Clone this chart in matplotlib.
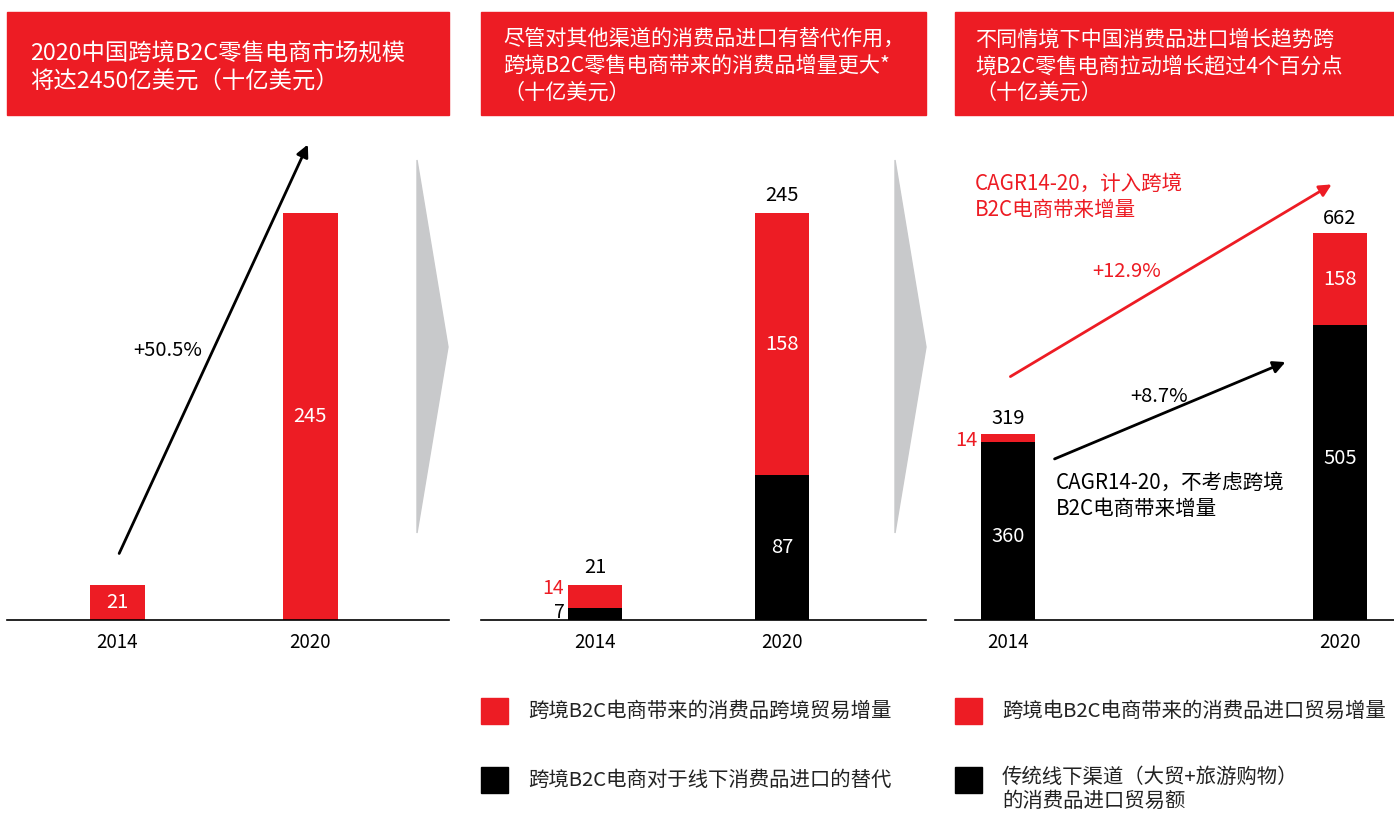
import matplotlib
matplotlib.use("Agg")
import matplotlib.pyplot as plt
from matplotlib.patches import Rectangle, Polygon, FancyArrowPatch

plt.rcParams['font.family'] = ['Noto Sans CJK SC', 'DejaVu Sans']

W, H = 1394, 816
RED = '#ED1C24'
GREY = '#C8C9CB'

years = ['2014', '2020']

# panel 1: market size
p1_values = [21, 245]
p1_cagr = '+50.5%'

# panel 2: split of B2C volume
p2_substitute = [7, 87]
p2_increment = [14, 158]
p2_totals = [21, 245]

# panel 3: consumer goods import
p3_traditional = [305, 505]
p3_traditional_labels = ['360', '505']
p3_b2c = [14, 158]
p3_totals = [319, 662]
p3_cagr_with = '+12.9%'
p3_cagr_without = '+8.7%'

titles = [
    '2020中国跨境B2C零售电商市场规模\n将达2450亿美元（十亿美元）',
    '尽管对其他渠道的消费品进口有替代作用，\n跨境B2C零售电商带来的消费品增量更大*\n（十亿美元）',
    '不同情境下中国消费品进口增长趋势跨\n境B2C零售电商拉动增长超过4个百分点\n（十亿美元）',
]
legend2 = ['跨境B2C电商带来的消费品跨境贸易增量', '跨境B2C电商对于线下消费品进口的替代']
legend3 = ['跨境电B2C电商带来的消费品进口贸易增量', '传统线下渠道（大贸+旅游购物）\n的消费品进口贸易额']

NUM_FS = 14.5


def fx(x):
    return x / W


def fy(y):
    return 1 - y / H


fig = plt.figure(figsize=(W / 100, H / 100), dpi=100)

# red title boxes
boxes = [(7, 449), (481, 926), (955, 1394)]
title_pos = [(30, 68, 16.8), (503, 66, 15.2), (975, 66, 15.2)]
for (x0, x1), (tx, ty, fs), t in zip(boxes, title_pos, titles):
    fig.patches.append(Rectangle((fx(x0), fy(115)), fx(x1 - x0), 103 / H,
                                 transform=fig.transFigure, color=RED, zorder=0))
    fig.text(fx(tx), fy(ty), t, color='white', fontsize=fs, va='center',
             ha='left', linespacing=1.28)

# grey chevrons
for x0 in (417, 895):
    pts = [(fx(x0), fy(160)), (fx(x0 + 31), fy(347)), (fx(x0), fy(533))]
    fig.patches.append(Polygon(pts, closed=True, transform=fig.transFigure,
                               color=GREY, zorder=0))


def make_ax(x0, x1, xlim, ytop):
    ax = fig.add_axes([fx(x0), fy(620), fx(x1 - x0), 490 / H])
    ax.set_xlim(*xlim)
    ax.set_ylim(0, ytop)
    for s in ['top', 'right', 'left']:
        ax.spines[s].set_visible(False)
    ax.spines['bottom'].set_linewidth(1.2)
    ax.set_yticks([])
    ax.set_xticks([0, 1])
    ax.set_xticklabels(years, fontsize=13.5)
    ax.tick_params(axis='x', length=0, pad=9)
    ax.patch.set_alpha(0)
    return ax


x = [0, 1]

# ---- panel 1
ax1 = make_ax(7, 449, (-0.570, 1.720), 295)
bw1 = 0.285
ax1.bar(x, p1_values, width=bw1, color=RED)
for xi, v in zip(x, p1_values):
    ax1.text(xi, v / 2, str(v), color='white', ha='center', va='center', fontsize=NUM_FS)

# ---- panel 2
ax2 = make_ax(481, 926, (-0.610, 1.770), 295)
bw2 = 0.289
ax2.bar(x, p2_substitute, width=bw2, color='black')
ax2.bar(x, p2_increment, width=bw2, bottom=p2_substitute, color=RED)
for xi, t in zip(x, p2_totals):
    ax2.text(xi, t + 4, str(t), color='black', ha='center', va='bottom', fontsize=NUM_FS)
ax2.text(x[1], p2_substitute[1] + p2_increment[1] / 2, str(p2_increment[1]),
         color='white', ha='center', va='center', fontsize=NUM_FS)
ax2.text(x[1], p2_substitute[1] / 2, str(p2_substitute[1]),
         color='white', ha='center', va='center', fontsize=NUM_FS)
ax2.text(x[0] - bw2 / 2 - 0.02, p2_substitute[0] + p2_increment[0] / 2 + 5,
         str(p2_increment[0]), color=RED, ha='right', va='center', fontsize=14)
ax2.text(x[0] - bw2 / 2 - 0.02, p2_substitute[0] / 2 + 1,
         str(p2_substitute[0]), color='black', ha='right', va='center', fontsize=14)

# ---- panel 3
ax3 = make_ax(955, 1394, (-0.160, 1.163), 840)
bw3 = 0.163
ax3.bar(x, p3_traditional, width=bw3, color='black')
ax3.bar(x, p3_b2c, width=bw3, bottom=p3_traditional, color=RED)
for xi, t in zip(x, p3_totals):
    ax3.text(xi, t + 8, str(t), color='black', ha='center', va='bottom', fontsize=NUM_FS)
ax3.text(x[1], p3_traditional[1] + p3_b2c[1] / 2, str(p3_b2c[1]),
         color='white', ha='center', va='center', fontsize=NUM_FS)
ax3.text(x[1], p3_traditional[1] / 2 + 25, p3_traditional_labels[1],
         color='white', ha='center', va='center', fontsize=NUM_FS)
ax3.text(x[0], p3_traditional[0] / 2 - 10, p3_traditional_labels[0],
         color='white', ha='center', va='center', fontsize=NUM_FS)
ax3.text(x[0] - bw3 / 2 - 0.012, p3_traditional[0] + p3_b2c[0] / 2 - 5,
         str(p3_b2c[0]), color=RED, ha='right', va='center', fontsize=NUM_FS)


# arrows and CAGR notes
def arrow(x0, y0, x1, y1, color):
    fig.add_artist(FancyArrowPatch(
        (fx(x0), fy(y0)), (fx(x1), fy(y1)), transform=fig.transFigure,
        arrowstyle='-|>', mutation_scale=18, color=color, lw=2))


arrow(118, 556, 309, 142, 'black')
fig.text(fx(168), fy(350), p1_cagr, fontsize=NUM_FS, ha='center', va='center')

arrow(1008, 378, 1334, 183, RED)
fig.text(fx(1127), fy(272), p3_cagr_with, fontsize=NUM_FS, color=RED, ha='center', va='center')
fig.text(fx(975), fy(197), 'CAGR14-20，计入跨境\nB2C电商带来增量', fontsize=14.8,
         color=RED, ha='left', va='center', linespacing=1.25)

arrow(1052, 460, 1288, 361, 'black')
fig.text(fx(1159), fy(396), p3_cagr_without, fontsize=NUM_FS, ha='center', va='center')
fig.text(fx(1056), fy(496), 'CAGR14-20，不考虑跨境\nB2C电商带来增量', fontsize=14.8,
         color='black', ha='left', va='center', linespacing=1.25)

# legends
for lx, tx, items in [(481, 528, legend2), (955, 1002, legend3)]:
    for sy, txt, c in zip([711, 780], items, [RED, 'black']):
        fig.patches.append(Rectangle((fx(lx), fy(sy + 13)), fx(27), 26 / H,
                                     transform=fig.transFigure, color=c))
        if '\n' in txt:
            fig.text(fx(tx), fy(sy - 13), txt, fontsize=14.7, ha='left', va='top',
                     linespacing=1.2, color='#222222')
        else:
            fig.text(fx(tx), fy(sy), txt, fontsize=14.7, ha='left', va='center',
                     color='#222222')

fig.savefig('out.png', dpi=100)
